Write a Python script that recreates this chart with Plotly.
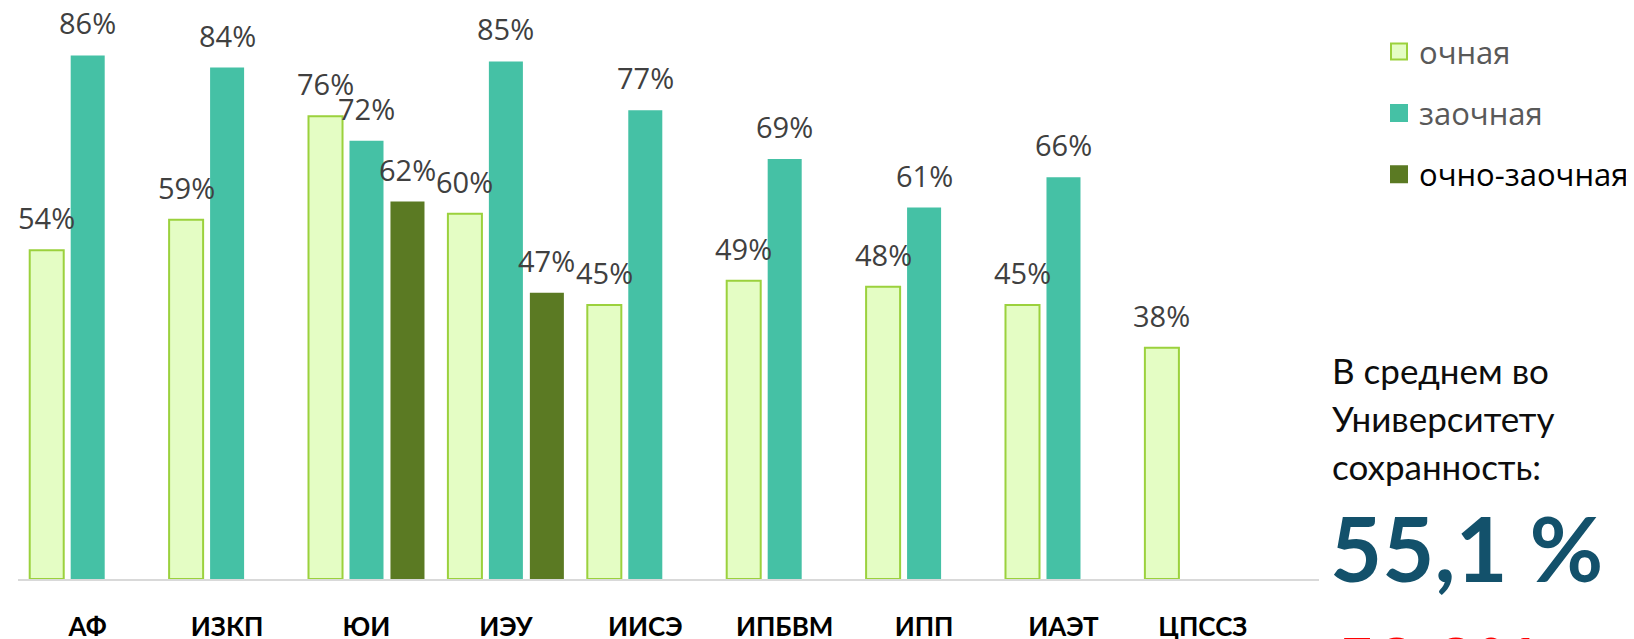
import plotly.graph_objects as go

categories = ["АФ", "ИЗКП", "ЮИ", "ИЭУ", "ИИСЭ", "ИПБВМ", "ИПП", "ИАЭТ", "ЦПССЗ"]
ochnaya = [0.54, 0.59, 0.76, 0.60, 0.45, 0.49, 0.48, 0.45, 0.38]
zaochnaya = [0.86, 0.84, 0.72, 0.85, 0.77, 0.69, 0.61, 0.66, None]
ochno_zaochnaya = [None, None, 0.62, 0.47, None, None, None, None, None]
series_names = ["очная", "заочная", "очно-заочная"]

side_lines = ["В среднем во", "Университету", "сохранность:"]
avg_value = "55,1 %"
avg_value_2 = "58,3%"

# ---- layout constants (pixels) ----
W, H = 1634, 639
L, R, T, B = 10, 323, 5, 66
plot_w = W - L - R
plot_h = H - T - B
X_RANGE = [-0.5, 8.833]
Y_MAX = plot_h / 611.0
BARGAP, GROUPGAP = 0.118, 0.17
cat_px = plot_w / (X_RANGE[1] - X_RANGE[0])
slot_px = (1 - BARGAP) * cat_px / 3

C_OCH_FILL = "#E4FDC4"
C_OCH_LINE = "#9BD13D"
C_ZAO = "#45C1A5"
C_OZ = "#5B7A23"
LABEL_FONT = dict(family="Open Sans", size=29, color="#404040")


def px_x(px):
    return (px - L) / plot_w


def px_y(py):
    return 1 - (py - T) / plot_h


fig = go.Figure()
series = [
    (ochnaya, series_names[0], C_OCH_FILL, C_OCH_LINE, 2),
    (zaochnaya, series_names[1], C_ZAO, C_ZAO, 0),
    (ochno_zaochnaya, series_names[2], C_OZ, C_OZ, 0),
]
annotations = []
for j, (vals, name, fc, lc, lw) in enumerate(series):
    fig.add_trace(go.Bar(
        x=categories, y=vals, name=name, showlegend=False,
        marker=dict(color=fc, line=dict(color=lc, width=lw)),
    ))
    for cat, v in zip(categories, vals):
        if v is None:
            continue
        annotations.append(dict(
            x=cat, y=v, xref="x", yref="y", text=f"{round(v * 100)}%",
            showarrow=False, yanchor="bottom", xanchor="center",
            xshift=(j - 1) * slot_px, yshift=11, font=LABEL_FONT,
        ))

# legend entries
legend_specs = [
    (f"<span style='color:#595959'>{series_names[0]}</span>", C_OCH_FILL, C_OCH_LINE),
    (f"<span style='color:#595959'>{series_names[1]}</span>", C_ZAO, C_ZAO),
    (f"<span style='color:#000000'>{series_names[2]}</span>", C_OZ, C_OZ),
]
for i, (nm, fc, lc) in enumerate(legend_specs):
    fig.add_trace(go.Scatter(
        x=[None], y=[None], mode="markers", name=nm, legendgroup=f"g{i}",
        marker=dict(symbol="square", size=16, color=fc, line=dict(color=lc, width=2)),
    ))

for k, line in enumerate(side_lines):
    annotations.append(dict(
        xref="paper", yref="paper", x=px_x(1322), xanchor="left",
        y=px_y(363 + 48.5 * k), yanchor="middle",
        text=line, showarrow=False, align="left",
        font=dict(family="Lato", size=35, color="#0D0D0D"),
    ))
annotations.append(dict(
    xref="paper", yref="paper", x=px_x(1320), xanchor="left",
    y=px_y(541), yanchor="middle",
    text=f"<b>{avg_value}</b>", showarrow=False,
    font=dict(family="Lato", size=90, color="#13516B"),
))
annotations.append(dict(
    xref="paper", yref="paper", x=px_x(1324), xanchor="left",
    y=px_y(657), yanchor="middle",
    text=f"<b>{avg_value_2}</b>", showarrow=False,
    font=dict(family="Lato", size=72, color="#FF0000"),
))

fig.update_layout(
    width=W, height=H,
    margin=dict(l=L, r=R, t=T, b=B),
    paper_bgcolor="white", plot_bgcolor="white",
    barmode="group", bargap=BARGAP, bargroupgap=GROUPGAP,
    xaxis=dict(
        type="category", range=X_RANGE,
        showline=True, linecolor="#D9D9D9", linewidth=2,
        showgrid=False, ticks="", ticklabelstandoff=24,
        tickfont=dict(family="Lato", size=26, color="#000000", weight="bold"),
    ),
    yaxis=dict(range=[0, Y_MAX], visible=False, showgrid=False),
    legend=dict(
        x=px_x(1371), xanchor="left", y=px_y(17), yanchor="top",
        font=dict(family="Open Sans", size=31, color="#595959"),
        itemsizing="trace", tracegroupgap=18, traceorder="grouped",
        bgcolor="rgba(0,0,0,0)",
    ),
    annotations=annotations,
    showlegend=True,
)

fig.write_html("out.html")
